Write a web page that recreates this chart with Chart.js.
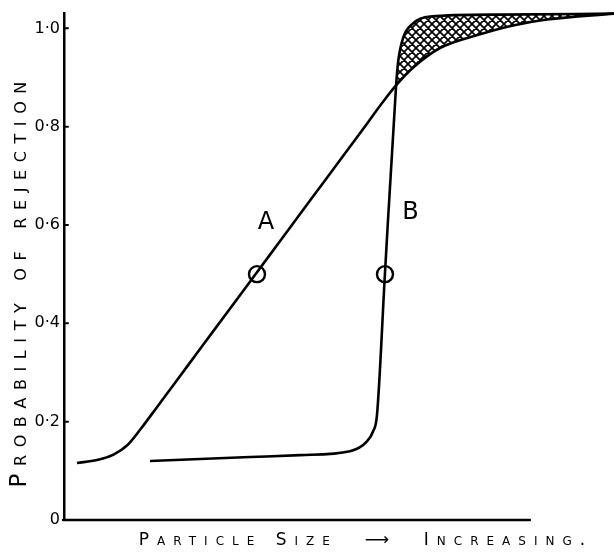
<!DOCTYPE html>
<html><head><meta charset="utf-8">
<script src="https://cdn.jsdelivr.net/npm/chart.js@4.4.0/dist/chart.umd.min.js"></script>
<style>html,body{margin:0;padding:0;background:#fff;}#wrap{width:614px;height:555px;}</style>
</head><body><div id="wrap"><canvas id="c" width="614" height="555"></canvas></div>
<script>
// Curve A (gradual classifier)
const curveAx = [2.36, 6, 9, 11.5, 14, 17, 20, 25, 30, 35.09, 40, 45, 50, 55.09, 57.5, 60.36, 63.45, 68.36, 75.64, 81.64, 87.82, 100];
const curveAy = [0.116, 0.122, 0.133, 0.152, 0.186, 0.231, 0.276, 0.352, 0.427, 0.504, 0.578, 0.654, 0.729, 0.806, 0.843, 0.884, 0.92, 0.96, 0.988, 1.006, 1.018, 1.03];
// Curve B (sharp classifier)
const curveBx = [15.64, 33.82, 42.91, 52.0, 55.09, 56.18, 56.91, 58.36, 60.36, 60.73, 61.64, 63.45, 66.55, 79.27, 100];
const curveBy = [0.12, 0.128, 0.132, 0.14, 0.16, 0.18, 0.214, 0.502, 0.88, 0.93, 0.98, 1.01, 1.024, 1.028, 1.03];
// 50% points (circles)
const markerX = [35.09, 58.36];
const markerY = [0.5, 0.5];
// Curve labels
const labelNames = ['A', 'B'];
const labelX = [36.7, 63.0];
const labelY = [0.604, 0.624];
// Axis ticks
const yTickValues = [0, 0.2, 0.4, 0.6, 0.8, 1.0];
const yTickLabels = ['0', '0·2', '0·4', '0·6', '0·8', '1·0'];
const xAxisEnd = 84.7;
const xTitle = 'Particle Size  ⟶  Increasing.';
const yTitle = 'Probability of rejection';

function makeHatch() {
  const c = document.createElement('canvas');
  c.width = 8; c.height = 8;
  const g = c.getContext('2d');
  g.strokeStyle = '#000'; g.lineWidth = 1.7;
  g.beginPath();
  for (const o of [-8, 0, 8]) {
    g.moveTo(o, 0); g.lineTo(o + 8, 8);
    g.moveTo(o + 8, 0); g.lineTo(o, 8);
  }
  g.stroke();
  return g.createPattern(c, 'repeat');
}
const hatch = makeHatch();

const titleOffsets = { x: [27, 0, '8px'], y: [0, 14, '7.6px'] };
const spacingPlugin = {
  id: 'spacing',
  beforeDraw(chart) {
    for (const id of ['x', 'y']) {
      const s = chart.scales[id];
      if (s && !s._patched) {
        const orig = s.drawTitle;
        const [dx, dy, sp] = titleOffsets[id];
        s.drawTitle = function (...a) {
          const ctx = this.ctx;
          ctx.save();
          ctx.letterSpacing = sp;
          ctx.translate(dx, dy);
          orig.apply(this, a);
          ctx.restore();
        };
        s._patched = true;
      }
    }
  }
};

const decorPlugin = {
  id: 'decor',
  afterDatasetsDraw(chart) {
    const { ctx, scales: { x, y }, chartArea } = chart;
    ctx.save();
    ctx.strokeStyle = '#000';
    ctx.lineWidth = 2.5;
    ctx.lineCap = 'round';
    const y0 = y.getPixelForValue(0);
    ctx.beginPath();
    ctx.moveTo(chartArea.left - 1, y0);
    ctx.lineTo(x.getPixelForValue(xAxisEnd), y0);
    ctx.stroke();
    ctx.lineWidth = 2;
    ctx.beginPath();
    yTickValues.forEach(v => {
      if (v === 0) return;
      const py = y.getPixelForValue(v);
      ctx.moveTo(chartArea.left, py);
      ctx.lineTo(chartArea.left + 4, py);
    });
    ctx.stroke();
    ctx.fillStyle = '#000';
    ctx.font = "24px 'DejaVu Sans'";
    ctx.textAlign = 'center';
    ctx.textBaseline = 'middle';
    labelNames.forEach((t, i) => ctx.fillText(t, x.getPixelForValue(labelX[i]), y.getPixelForValue(labelY[i])));
    ctx.restore();
  }
};

const lineCommon = {
  borderColor: '#000', borderWidth: 2.6, pointRadius: 0, pointHoverRadius: 0,
  cubicInterpolationMode: 'monotone', clip: false, showLine: true
};

new Chart(document.getElementById('c'), {
  type: 'line',
  data: {
    datasets: [
      Object.assign({ label: 'A', data: curveAx.map((v, i) => ({ x: v, y: curveAy[i] })), fill: false }, lineCommon),
      Object.assign({ label: 'B', data: curveBx.map((v, i) => ({ x: v, y: curveBy[i] })),
        fill: { target: 0, above: hatch, below: 'rgba(0,0,0,0)' } }, lineCommon),
      { label: 'markers', data: markerX.map((v, i) => ({ x: v, y: markerY[i] })), showLine: false,
        pointRadius: 8, pointHoverRadius: 8, pointStyle: 'circle', pointBorderWidth: 2.4,
        pointBorderColor: '#000', pointBackgroundColor: 'rgba(0,0,0,0)', borderColor: '#000', clip: false }
    ]
  },
  options: {
    responsive: false,
    animation: false,
    events: [],
    layout: { autoPadding: false, padding: { top: 5, right: 0, left: 0, bottom: 0 } },
    plugins: { legend: { display: false }, tooltip: { enabled: false } },
    scales: {
      x: {
        type: 'linear', min: 0, max: 100,
        grid: { display: false, drawTicks: false },
        border: { display: false },
        ticks: { display: false },
        title: { display: true, text: xTitle, align: 'center', color: '#000',
          font: { family: "'DejaVu Sans'", size: 17, weight: 'small-caps' }, padding: { top: 0, bottom: 4 } },
        afterFit(s) { s.height = 35; }
      },
      y: {
        type: 'linear', min: 0, max: 1.03,
        grid: { display: false, drawTicks: false },
        border: { display: true, color: '#000', width: 2.5 },
        afterBuildTicks(s) { s.ticks = yTickValues.map(v => ({ value: v })); },
        ticks: { color: '#000', padding: 4, font: { family: "'DejaVu Sans'", size: 16 },
          callback: (v) => yTickLabels[yTickValues.indexOf(v)] },
        title: { display: true, text: yTitle, align: 'center', color: '#000',
          font: { family: "'DejaVu Sans'", size: 23, weight: 'small-caps' }, padding: { top: 6, bottom: 0 } },
        afterFit(s) { s.width = 64; }
      }
    }
  },
  plugins: [spacingPlugin, decorPlugin]
});
</script>
</body></html>
